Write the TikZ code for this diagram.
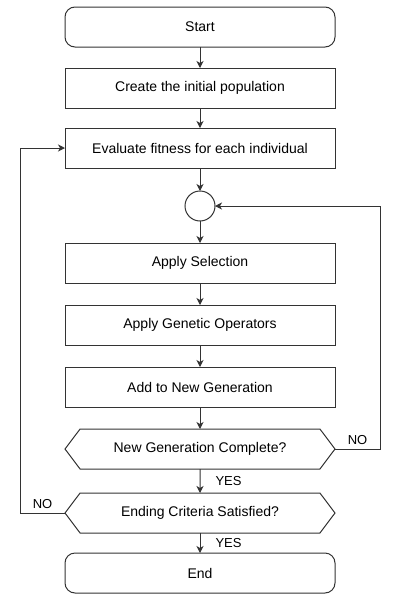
\documentclass[tikz,border=0pt]{standalone}
\usepackage{fontspec}
\setmainfont{Liberation Sans}
\usetikzlibrary{positioning}
\usetikzlibrary{arrows.meta}
\usetikzlibrary{shapes.symbols}

\tikzset{
  box/.style={draw=black!80, line width=1pt, minimum width=270pt, minimum height=40pt,
    inner sep=0pt, outer sep=0pt, font=\fontsize{14}{16}\selectfont},
  term/.style={box, rounded corners=10pt},
  test/.style={box, signal, signal to=west and east, signal pointer angle=106},
  joint/.style={draw=black!80, line width=1pt, circle, minimum size=30pt, inner sep=0pt, outer sep=0pt},
  lbl/.style={font=\fontsize{13}{15}\selectfont, inner sep=2pt},
  flow/.style={draw=black!80, line width=1pt, -{Stealth[length=7pt,width=7pt,inset=2pt]}}
}

\begin{document}
\begin{tikzpicture}[x=1pt, y=-1pt]
  \useasboundingbox (0,0) rectangle (400,600);

  \node[term] (start) at (200,27) {Start};
  \node[box, below=21pt of start] (init) {Create the initial population};
  \node[box, below=20pt of init] (eval) {Evaluate fitness for each individual};
  \node[joint, below=23pt of eval] (join) {};
  \node[box, below=22pt of join] (sel) {Apply Selection};
  \node[box, below=22pt of sel] (ops) {Apply Genetic Operators};
  \node[box, below=22pt of ops] (add) {Add to New Generation};
  \node[test, below=22pt of add] (full) {New Generation Complete?};
  \node[test, below=24pt of full] (stop) {Ending Criteria Satisfied?};
  \node[term, below=20pt of stop] (end) {End};

  \draw[flow] (start) -- (init);
  \draw[flow] (init) -- (eval);
  \draw[flow] (eval) -- (join);
  \draw[flow] (join) -- (sel);
  \draw[flow] (sel) -- (ops);
  \draw[flow] (ops) -- (add);
  \draw[flow] (add) -- (full);
  \draw[flow] (full) -- (stop) node[lbl, right, midway, xshift=13pt] {YES};
  \draw[flow] (stop) -- (end) node[lbl, right, midway, xshift=13pt] {YES};

  % loop back for the next generation
  \draw[flow] (full.east) -- ++(45,0) node[lbl, above, midway, yshift=2pt] {NO} |- (join.east);
  % loop back for the next evaluation
  \draw[flow] (stop.west) -- ++(-45,0) node[lbl, above, midway, yshift=2pt] {NO} |- (eval.west);
\end{tikzpicture}
\end{document}
